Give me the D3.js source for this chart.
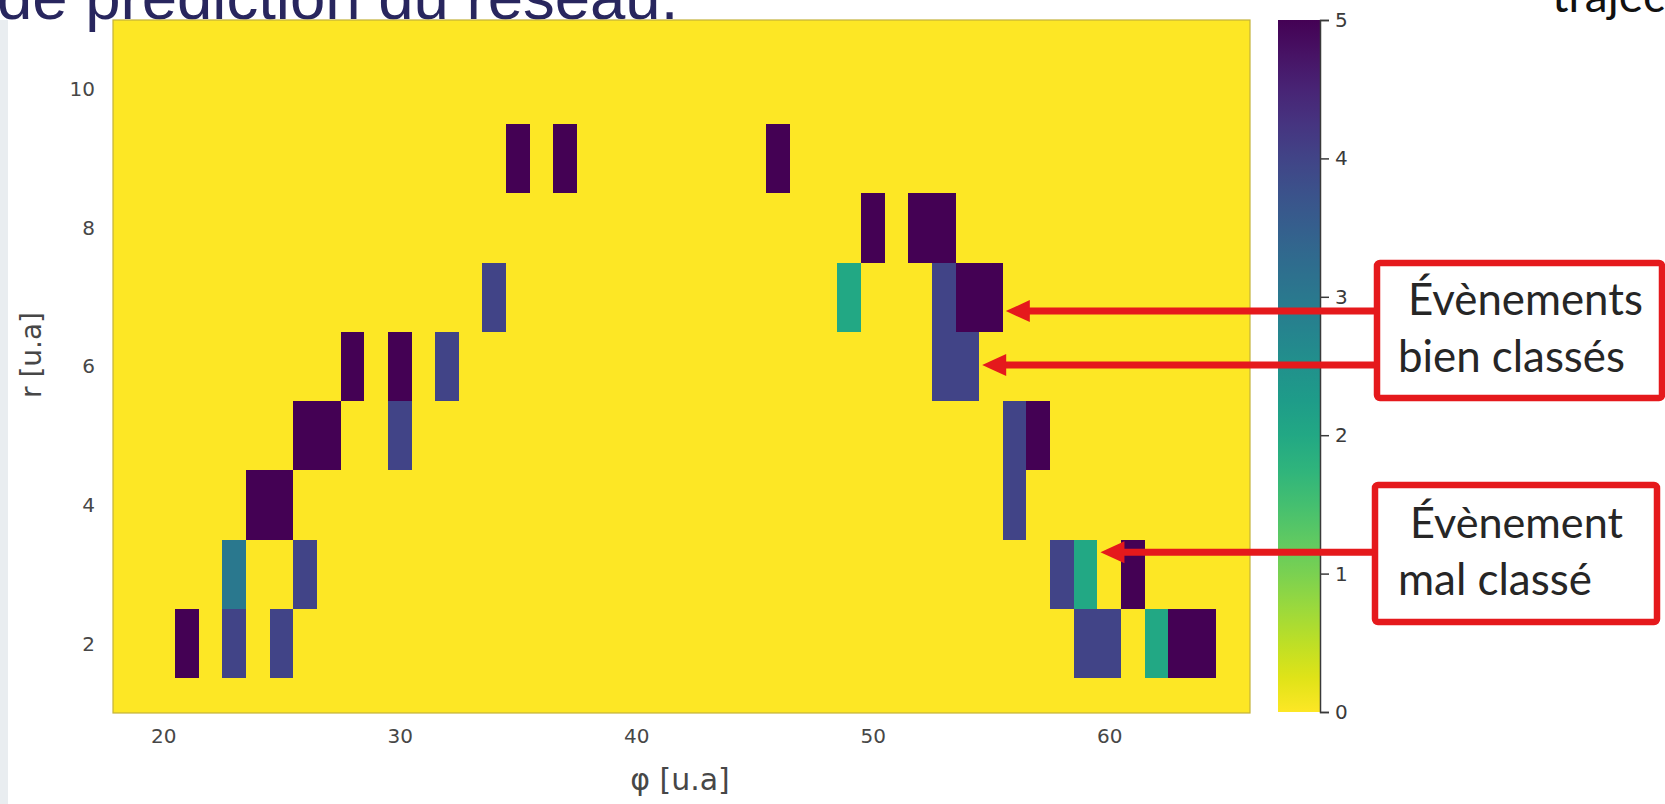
<!DOCTYPE html>
<html>
<head>
<meta charset="utf-8">
<script src="https://cdn.jsdelivr.net/npm/d3@7"></script>
<style>
  html, body { margin: 0; padding: 0; background: #ffffff; overflow: hidden; }
  svg { display: block; }
</style>
</head>
<body>
<svg id="chart" width="1665" height="804"></svg>
<script>
// Prediction map: each non-empty cell (phi, r) carries the network output (0..5)
const cellPhi   = [21, 23, 25, 59, 60, 62, 63, 64,
                   23, 26, 58, 59, 61,
                   24, 25, 56,
                   26, 27, 30, 56, 57,
                   28, 30, 32, 53, 54,
                   34, 49, 53, 54, 55,
                   50, 52, 53,
                   35, 37, 46];
const cellR     = [2, 2, 2, 2, 2, 2, 2, 2,
                   3, 3, 3, 3, 3,
                   4, 4, 4,
                   5, 5, 5, 5, 5,
                   6, 6, 6, 6, 6,
                   7, 7, 7, 7, 7,
                   8, 8, 8,
                   9, 9, 9];
const cellValue = [5, 4, 4, 4, 4, 2, 5, 5,
                   3, 4, 4, 2, 5,
                   5, 5, 4,
                   5, 5, 4, 4, 5,
                   5, 5, 4, 4, 4,
                   4, 2, 4, 5, 5,
                   5, 5, 5,
                   5, 5, 5];

const phiTicks = [20, 30, 40, 50, 60];
const rTicks = [2, 4, 6, 8, 10];
const colorTicks = [0, 1, 2, 3, 4, 5];
const phiDomain = [17.88, 65.95];
const rDomain = [1, 11];
const valueDomain = [0, 5];

const xLabel = "φ [u.a]";
const yLabel = "r [u.a]";
const titleText = "de prédiction du réseau.";
const sideText = "trajec";

// Annotation callouts: target point (phi, r) and the label lines
const calloutTargets = [
  { phi: 55.5, r: 6.8, box: 0 },
  { phi: 54.5, r: 6.02, box: 0 },
  { phi: 59.5, r: 3.32, box: 1 }
];
const calloutBoxes = [
  { lines: ["Évènements", "bien classés"] },
  { lines: ["Évènement", "mal classé"] }
];

const svg = d3.select("#chart");

// Layout
const plot = { left: 113, right: 1250, top: 20, bottom: 713 };
const cbar = { left: 1278, right: 1320, top: 20, bottom: 712 };

const x = d3.scaleLinear().domain(phiDomain).range([plot.left, plot.right]);
const y = d3.scaleLinear().domain(rDomain).range([plot.bottom, plot.top]);
const color = v => d3.interpolateViridis(1 - v / valueDomain[1]);

// Slide furniture: side strip, title fragment
svg.append("rect").attr("x", 0).attr("y", 20).attr("width", 8).attr("height", 784)
  .attr("fill", "#e9edf0");

svg.append("text").attr("x", -3).attr("y", 19)
  .attr("font-family", "Liberation Sans, Arial, sans-serif")
  .attr("font-size", 63.5).attr("fill", "#28265e")
  .text(titleText);

svg.append("text").attr("x", 1552).attr("y", 12)
  .attr("font-family", "Lato, sans-serif")
  .attr("font-size", 46).attr("fill", "#111111")
  .text(sideText);

// Heatmap background (value 0) and occupied cells
const g = svg.append("g");
g.append("rect")
  .attr("x", plot.left).attr("y", plot.top)
  .attr("width", plot.right - plot.left).attr("height", plot.bottom - plot.top)
  .attr("fill", color(0));

const cells = cellPhi.map((p, i) => ({ phi: p, r: cellR[i], v: cellValue[i] }));
g.selectAll("rect.cell").data(cells).join("rect")
  .attr("class", "cell")
  .attr("shape-rendering", "crispEdges")
  .attr("x", d => x(d.phi - 0.5))
  .attr("y", d => y(d.r + 0.5))
  .attr("width", d => x(d.phi + 0.5) - x(d.phi - 0.5))
  .attr("height", d => y(d.r - 0.5) - y(d.r + 0.5))
  .attr("fill", d => color(d.v));

g.append("rect")
  .attr("x", plot.left).attr("y", plot.top)
  .attr("width", plot.right - plot.left).attr("height", plot.bottom - plot.top)
  .attr("fill", "none").attr("stroke", "#c4b23a").attr("stroke-width", 1.2);

// Axes
const tickFont = "DejaVu Sans, sans-serif";
const xAxis = g.append("g").attr("transform", `translate(0,${plot.bottom})`)
  .call(d3.axisBottom(x).tickValues(phiTicks).tickSize(0).tickPadding(16).tickFormat(d3.format("d")));
const yAxis = g.append("g").attr("transform", `translate(${plot.left},0)`)
  .call(d3.axisLeft(y).tickValues(rTicks).tickSize(0).tickPadding(18).tickFormat(d3.format("d")));
[xAxis, yAxis].forEach(a => {
  a.select(".domain").remove();
  a.selectAll("text").attr("font-family", tickFont).attr("font-size", 20).attr("fill", "#474747");
});

svg.append("text")
  .attr("x", 680).attr("y", 790)
  .attr("text-anchor", "middle")
  .attr("font-family", tickFont).attr("font-size", 30).attr("fill", "#474747")
  .text(xLabel);

svg.append("text")
  .attr("transform", `translate(41,355) rotate(-90)`)
  .attr("text-anchor", "middle")
  .attr("font-family", tickFont).attr("font-size", 28).attr("fill", "#474747")
  .text(yLabel);

// Colour bar
const defs = svg.append("defs");
const grad = defs.append("linearGradient").attr("id", "cbarGrad")
  .attr("x1", 0).attr("y1", 1).attr("x2", 0).attr("y2", 0);
d3.range(0, 1.0001, 0.05).forEach(t => {
  grad.append("stop").attr("offset", t).attr("stop-color", color(t * valueDomain[1]));
});
svg.append("rect")
  .attr("x", cbar.left).attr("y", cbar.top)
  .attr("width", cbar.right - cbar.left).attr("height", cbar.bottom - cbar.top)
  .attr("fill", "url(#cbarGrad)");

const cy = d3.scaleLinear().domain(valueDomain).range([cbar.bottom, cbar.top]);
const cAxis = svg.append("g").attr("transform", `translate(${cbar.right},0)`)
  .call(d3.axisRight(cy).tickValues(colorTicks).tickSize(9).tickPadding(6).tickFormat(d3.format("d")));
cAxis.select(".domain").attr("stroke", "#3a3a3a").attr("stroke-width", 1.5);
cAxis.selectAll(".tick line").attr("stroke", "#3a3a3a").attr("stroke-width", 1.5);
cAxis.selectAll("text").attr("font-family", tickFont).attr("font-size", 20).attr("fill", "#3a3a3a");

// Callout boxes and arrows
const red = "#e5191c";
const boxGeom = [
  { x: 1377, y: 263, w: 285, h: 135, lines: [{ x: 1408, y: 315, w: 235 }, { x: 1398, y: 372, w: 227 }] },
  { x: 1375, y: 485, w: 282, h: 137, lines: [{ x: 1410, y: 538, w: 213 }, { x: 1398, y: 595, w: 194 }] }
];

const ann = svg.append("g");
calloutTargets.forEach(t => {
  const tipX = x(t.phi) + 3;
  const tipY = y(t.r);
  const startX = boxGeom[t.box].x;
  const headLen = 24, headHalf = 11;
  ann.append("line")
    .attr("x1", startX).attr("y1", tipY).attr("x2", tipX + headLen - 2).attr("y2", tipY)
    .attr("stroke", red).attr("stroke-width", 7);
  ann.append("path")
    .attr("d", `M${tipX},${tipY} L${tipX + headLen},${tipY - headHalf} L${tipX + headLen},${tipY + headHalf} Z`)
    .attr("fill", red);
});

calloutBoxes.forEach((b, i) => {
  const geo = boxGeom[i];
  ann.append("rect")
    .attr("x", geo.x).attr("y", geo.y).attr("width", geo.w).attr("height", geo.h)
    .attr("rx", 3)
    .attr("fill", "#ffffff").attr("stroke", red).attr("stroke-width", 6.5);
  b.lines.forEach((line, j) => {
    const lg = geo.lines[j];
    const t = ann.append("text")
      .attr("x", lg.x).attr("y", lg.y)
      .attr("font-family", "Lato, sans-serif")
      .attr("font-size", 44).attr("fill", "#262626")
      .text(line);
    const w = t.node().getComputedTextLength();
    t.attr("font-size", 44 * lg.w / w);
  });
});
</script>
</body>
</html>
